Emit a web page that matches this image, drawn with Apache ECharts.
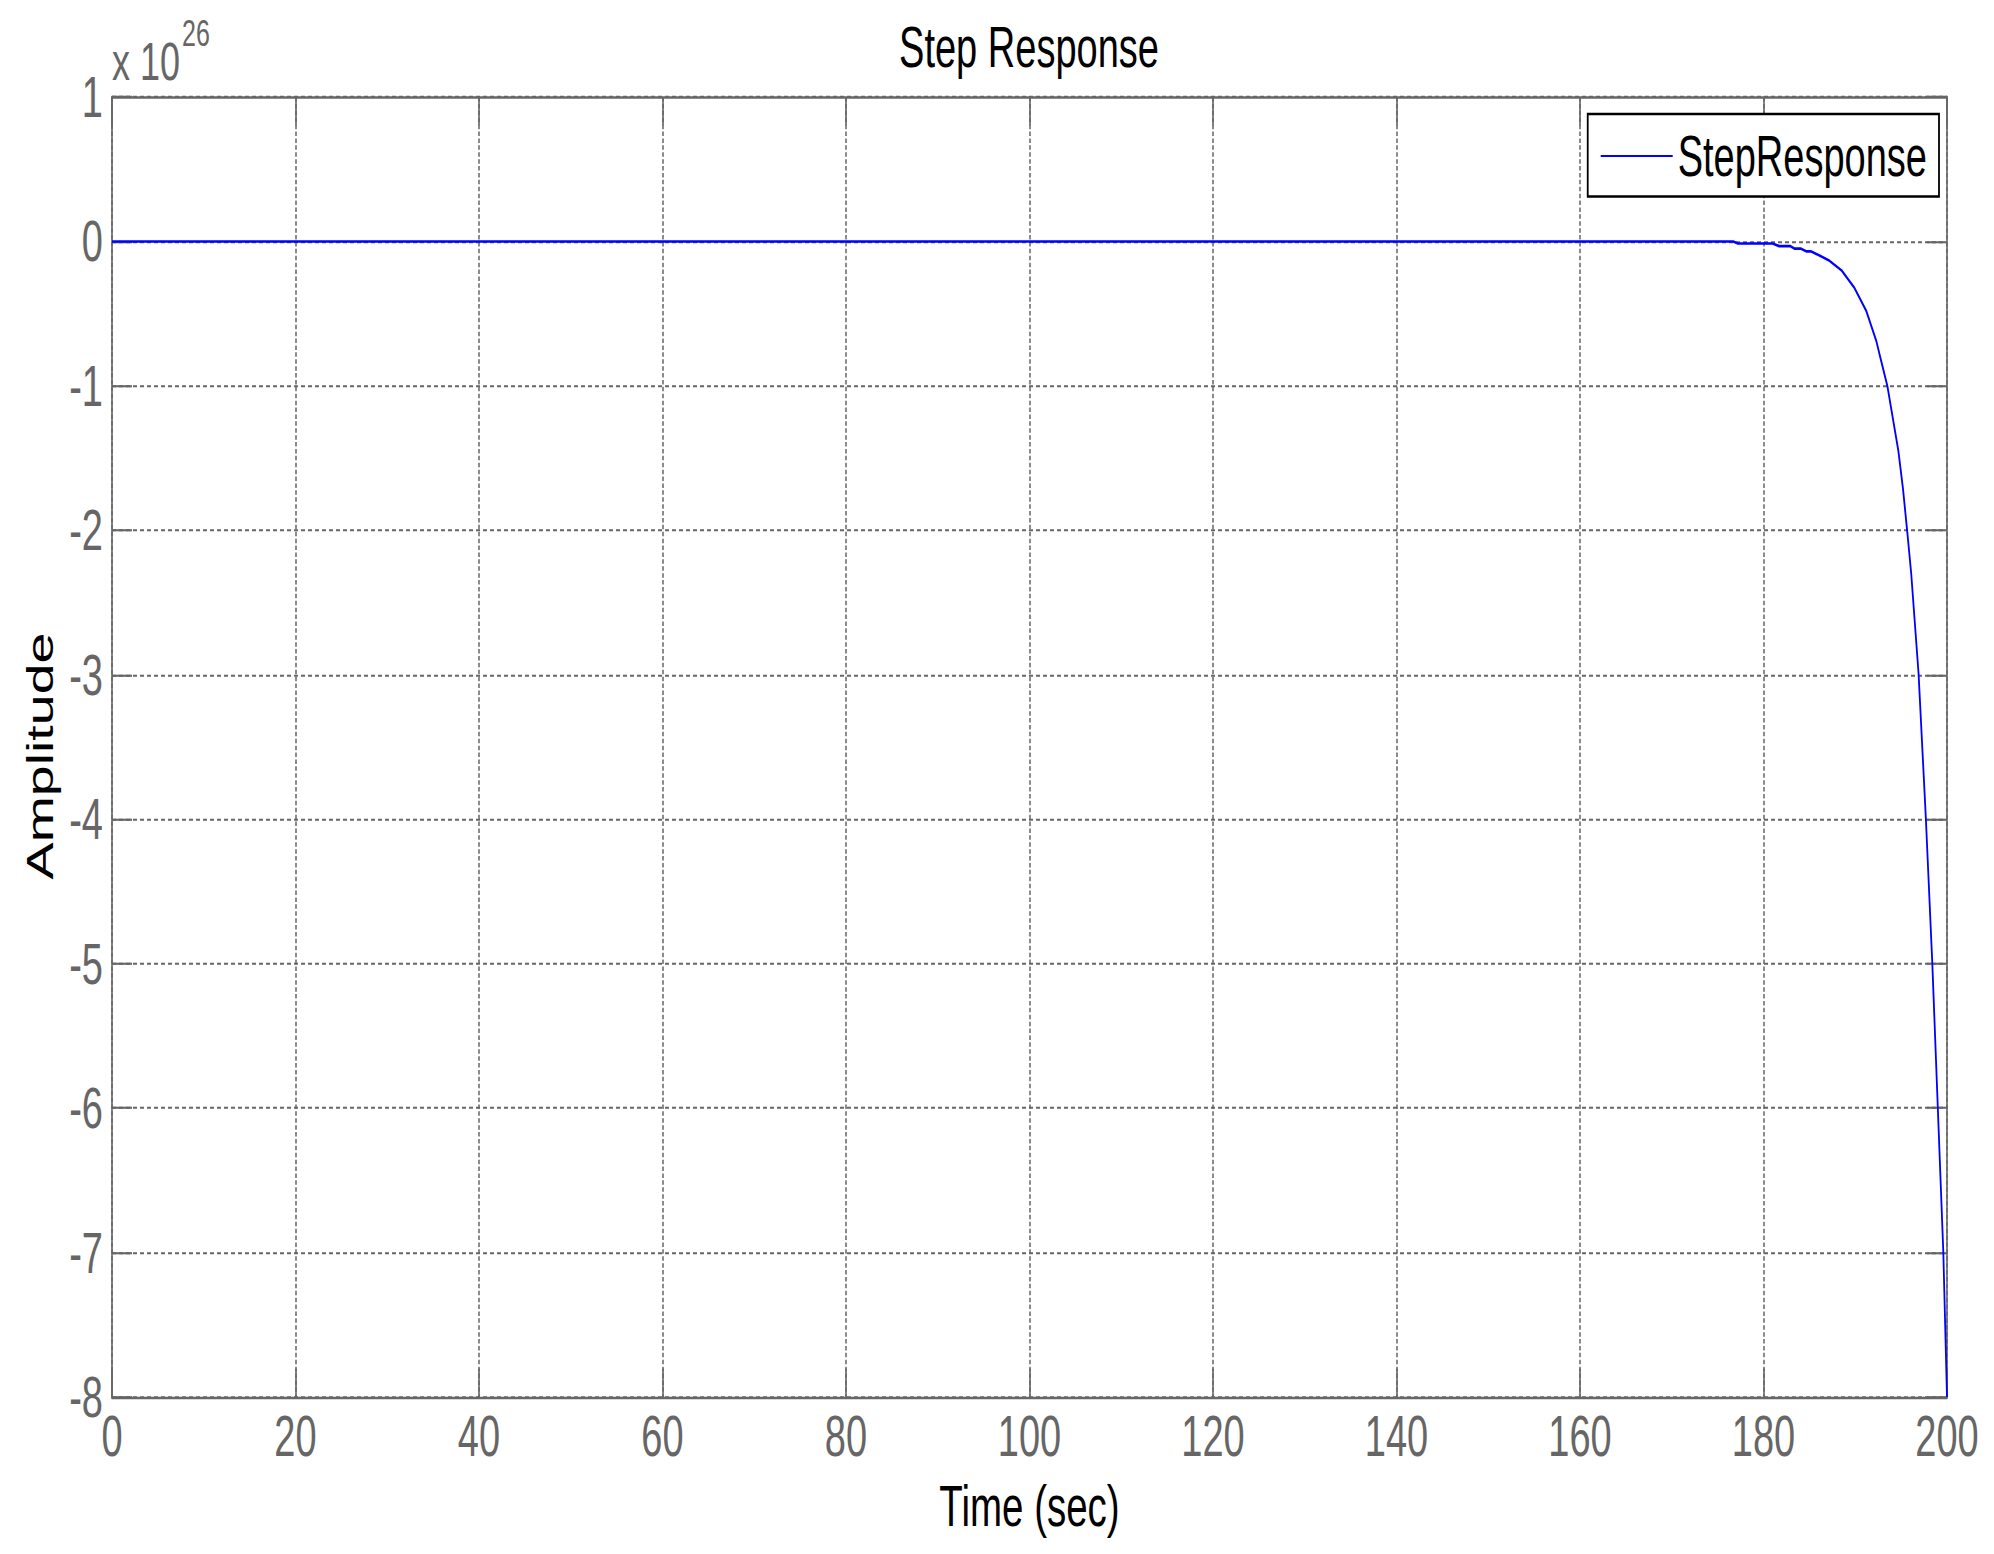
<!DOCTYPE html>
<html>
<head>
<meta charset="utf-8">
<script src="https://cdn.jsdelivr.net/npm/echarts@6/dist/echarts.min.js"></script>
<style>
  html, body { margin: 0; padding: 0; background: #fff; width: 1994px; height: 1554px; }
  #wrap { position: relative; width: 1994px; height: 1554px; overflow: visible; }
  /* The reference figure is stretched vertically (tall, narrow glyphs): draw at 2/3 height, stretch x1.5 */
  #chart { position: absolute; left: 0; top: 0; width: 1994px; height: 1036px; transform: scaleY(1.5); transform-origin: 0 0; }
</style>
</head>
<body>
<div id="wrap"><div id="chart"></div></div>
<script>
// ---- data (amplitude in units of 1e26) ----
const timeSec = [0, 176.7, 177.2, 181.0, 181.7, 182.9, 183.4, 184.1, 184.7, 185.2, 186.1, 187.2, 188.5, 189.9, 191.2, 192.3, 192.8, 193.5, 193.9, 194.7, 195.2, 195.7, 196.1, 196.9, 197.7, 198.4, 199.0, 199.6, 200];
const amplitude = [0, 0, -0.014, -0.014, -0.032, -0.032, -0.05, -0.05, -0.069, -0.069, -0.097, -0.134, -0.20, -0.32, -0.48, -0.69, -0.82, -1.0, -1.15, -1.45, -1.71, -2.03, -2.3, -2.99, -4.0, -5.0, -6.0, -7.0, -8.0];
const seriesName = 'StepResponse';
const xTicks = { min: 0, max: 200, interval: 20 };
const yTicks = { min: -8, max: 1, interval: 1 };
const exponentText = '26';

const FONT = "'Liberation Sans', Arial, Helvetica, sans-serif";
const GREY = '#666666';

const points = timeSec.map((t, i) => [t, amplitude[i]]);

const chart = echarts.init(document.getElementById('chart'), null, { renderer: 'svg', width: 1994, height: 1036 });

const frameAxisX = (pos, showLabel) => ({
  type: 'value', position: pos,
  min: xTicks.min, max: xTicks.max, interval: xTicks.interval,
  axisLine: { show: true, onZero: false, lineStyle: { color: GREY, width: 1.6 } },
  axisTick: { show: true, inside: true, length: 19, lineStyle: { color: GREY, width: 1.6 } },
  axisLabel: { show: showLabel, color: GREY, fontFamily: FONT, fontSize: 38, margin: 7 },
  splitLine: { show: showLabel, lineStyle: { color: GREY, width: 1.5, type: [3, 1.6] } }
});
const frameAxisY = (pos, showLabel) => ({
  type: 'value', position: pos,
  min: yTicks.min, max: yTicks.max, interval: yTicks.interval,
  axisLine: { show: true, onZero: false, lineStyle: { color: GREY, width: 1.6 } },
  axisTick: { show: true, inside: true, length: 20, lineStyle: { color: GREY, width: 1.4 } },
  axisLabel: { show: showLabel, color: GREY, fontFamily: FONT, fontSize: 38, margin: 9 },
  splitLine: { show: showLabel, lineStyle: { color: GREY, width: 1.3, type: [4, 3] } }
});

const xBottom = Object.assign(frameAxisX('bottom', true), {
  name: 'Time (sec)', nameLocation: 'middle', nameGap: 53,
  nameTextStyle: { color: '#000', fontFamily: FONT, fontSize: 38.5 }
});
const yLeft = Object.assign(frameAxisY('left', true), {
  name: 'Amplitude', nameLocation: 'middle', nameGap: 52, nameRotate: 90,
  nameTextStyle: { color: '#000', fontFamily: FONT, fontSize: 37, padding: [0, 12, 0, 0] }
});

chart.setOption({
  animation: false,
  backgroundColor: '#ffffff',
  title: {
    text: 'Step Response',
    left: 1029, top: 12, padding: 0, textAlign: 'center',
    textStyle: { color: '#000', fontFamily: FONT, fontSize: 38, fontWeight: 'normal' }
  },
  grid: { left: 112, right: 47, top: 64.7, bottom: 104.7, containLabel: false },
  legend: {
    right: 55, top: 76,
    padding: [9, 12, 8, 13],
    icon: 'rect', itemWidth: 72, itemHeight: 1.4,
    backgroundColor: '#ffffff', borderColor: '#000000', borderWidth: 1.8, borderRadius: 0,
    textStyle: { color: '#000', fontFamily: FONT, fontSize: 38 },
    data: [seriesName]
  },
  xAxis: [xBottom, frameAxisX('top', false)],
  yAxis: [yLeft, frameAxisY('right', false)],
  graphic: [
    { type: 'text', left: 112, top: 23, z: 10,
      style: { text: 'x 10', fill: GREY, font: '36px ' + FONT } },
    { type: 'text', left: 182, top: 9.5, z: 10,
      style: { text: exponentText, fill: GREY, font: '25px ' + FONT } }
  ],
  series: [{
    name: seriesName, type: 'line', xAxisIndex: 0, yAxisIndex: 0,
    data: points, showSymbol: false, symbol: 'none',
    lineStyle: { color: '#0000ff', width: 1.8 },
    itemStyle: { color: '#0000ff' },
    z: 5
  }]
});
</script>
</body>
</html>
